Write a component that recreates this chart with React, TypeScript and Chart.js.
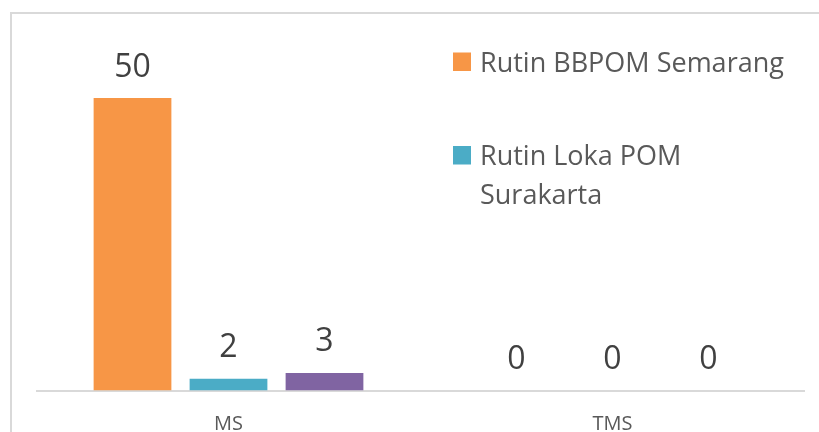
import React, { useEffect, useRef } from 'react';
import { Chart, registerables } from 'chart.js';

Chart.register(...registerables);

const categories = ['MS', 'TMS'];
const seriesNames = ['Rutin BBPOM Semarang', 'Rutin Loka POM Surakarta', 'Rutin Lainnya'];
const bbpomValues = [50, 0];
const lokaValues = [2, 0];
const thirdValues = [3, 0];
const seriesColors = ['#F79646', '#4BACC6', '#8064A2'];
const legendShown = [0, 1];

const FONT = '"Open Sans", "DejaVu Sans", sans-serif';

const framePlugin = {
  id: 'frame',
  beforeDraw(chart: any) {
    const ctx = chart.ctx;
    ctx.save();
    ctx.strokeStyle = '#d9d9d9';
    ctx.lineWidth = 2;
    ctx.strokeRect(11, 13, chart.width + 50, chart.height + 50);
    ctx.restore();
  },
};

const valueLabelPlugin = {
  id: 'valueLabels',
  afterDatasetsDraw(chart: any) {
    const ctx = chart.ctx;
    ctx.save();
    ctx.font = `32px ${FONT}`;
    ctx.fillStyle = '#404040';
    ctx.textAlign = 'center';
    ctx.textBaseline = 'alphabetic';
    chart.data.datasets.forEach((ds: any, i: number) => {
      const meta = chart.getDatasetMeta(i);
      meta.data.forEach((el: any, j: number) => {
        ctx.fillText(String(ds.data[j]), el.x, el.y - 21.5);
      });
    });
    ctx.restore();
  },
};

function wrap(ctx: CanvasRenderingContext2D, text: string, maxW: number): string[] {
  const words = text.split(' ');
  const lines: string[] = [];
  let cur = '';
  for (const w of words) {
    const test = cur ? cur + ' ' + w : w;
    if (ctx.measureText(test).width > maxW && cur) {
      lines.push(cur);
      cur = w;
    } else {
      cur = test;
    }
  }
  if (cur) lines.push(cur);
  return lines;
}

const legendPlugin = {
  id: 'sideLegend',
  afterDraw(chart: any) {
    const ctx = chart.ctx;
    ctx.save();
    ctx.font = `27px ${FONT}`;
    ctx.textBaseline = 'alphabetic';
    ctx.textAlign = 'left';
    let baseline = 71.5;
    legendShown.forEach((idx) => {
      const ds = chart.data.datasets[idx];
      ctx.fillStyle = ds.backgroundColor;
      ctx.fillRect(453, baseline - 19, 18, 18.5);
      ctx.fillStyle = '#595959';
      const lines = wrap(ctx, ds.label, 318);
      lines.forEach((ln, k) => {
        ctx.fillText(ln, 480, baseline + k * 39);
      });
      baseline += 93.5;
    });
    ctx.restore();
  },
};

export default function App() {
  const ref = useRef<HTMLCanvasElement | null>(null);

  useEffect(() => {
    if (!ref.current) return;
    const chart = new Chart(ref.current, {
      type: 'bar',
      data: {
        labels: categories,
        datasets: [bbpomValues, lokaValues, thirdValues].map((vals, i) => ({
          label: seriesNames[i],
          data: vals,
          backgroundColor: seriesColors[i],
          borderWidth: 0,
          categoryPercentage: 0.75,
          barPercentage: 0.81,
        })),
      },
      options: {
        animation: false,
        responsive: true,
        maintainAspectRatio: false,
        layout: { padding: { left: 36.5, right: 14.5, top: 39.5, bottom: 0 } },
        plugins: {
          legend: { display: false },
          tooltip: { enabled: false },
        },
        scales: {
          x: {
            grid: { display: false, drawTicks: false },
            border: { display: true, color: '#d9d9d9', width: 2 },
            ticks: { color: '#595959', font: { family: FONT, size: 20 }, padding: 21.5 },
            afterFit(scale: any) {
              scale.height = 41.5;
            },
          },
          y: {
            display: false,
            min: 0,
            max: 60,
          },
        },
      },
      plugins: [framePlugin, valueLabelPlugin, legendPlugin],
    });
    return () => chart.destroy();
  }, []);

  return (
    <div style={{ position: 'absolute', left: 0, top: 0, width: 819, height: 432, background: '#fff' }}>
      <canvas ref={ref} />
    </div>
  );
}
